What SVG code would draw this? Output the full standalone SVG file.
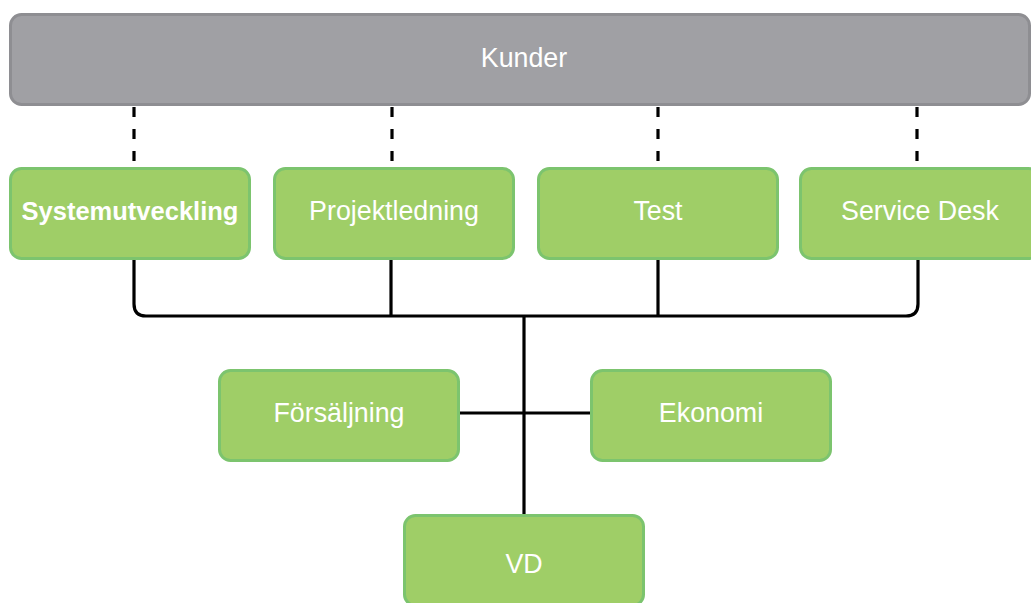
<svg xmlns="http://www.w3.org/2000/svg" width="1031" height="603" viewBox="0 0 1031 603">
<style>
.g{fill:#9fce67;stroke:#7cc46e;stroke-width:3}
.k{fill:#a0a0a4;stroke:#8e8e92;stroke-width:3}
.t{font-family:"Liberation Sans",Arial,sans-serif;font-size:26.8px;fill:#fff;text-anchor:middle}
.b{font-weight:bold;font-size:25.5px}
.c{fill:none;stroke:#000;stroke-width:3.2}
.d{fill:none;stroke:#000;stroke-width:3.2;stroke-dasharray:10 12}
</style>
<rect width="1031" height="603" fill="#fff"/>
<g id="connectors">
<line class="d" x1="134" y1="107" x2="134" y2="167"/>
<line class="d" x1="392" y1="107" x2="392" y2="167"/>
<line class="d" x1="658" y1="107" x2="658" y2="167"/>
<line class="d" x1="917" y1="107" x2="917" y2="167"/>
<path class="c" d="M134 259 V304 Q134 316 146 316 H906 Q918 316 918 304 V259"/>
<line class="c" x1="391" y1="259" x2="391" y2="316"/>
<line class="c" x1="658" y1="259" x2="658" y2="316"/>
<line class="c" x1="524" y1="316" x2="524" y2="515"/>
<line class="c" x1="459" y1="413" x2="591" y2="413"/>
</g>
<g id="kunder"><rect class="k" x="10.5" y="14.5" width="1019" height="90" rx="11"/><text class="t" x="524" y="67">Kunder</text></g>
<g id="systemutveckling"><rect class="g" x="10.5" y="168.5" width="239" height="90" rx="11"/><text class="t b" x="130" y="220">Systemutveckling</text></g>
<g id="projektledning"><rect class="g" x="274.5" y="168.5" width="239" height="90" rx="11"/><text class="t" x="394" y="220">Projektledning</text></g>
<g id="test"><rect class="g" x="538.5" y="168.5" width="239" height="90" rx="11"/><text class="t" x="658" y="220">Test</text></g>
<g id="servicedesk"><rect class="g" x="800.5" y="168.5" width="239" height="90" rx="11"/><text class="t" x="920" y="220">Service Desk</text></g>
<g id="forsaljning"><rect class="g" x="219.5" y="370.5" width="239" height="90" rx="11"/><text class="t" x="339" y="422">Försäljning</text></g>
<g id="ekonomi"><rect class="g" x="591.5" y="370.5" width="239" height="90" rx="11"/><text class="t" x="711" y="422">Ekonomi</text></g>
<g id="vd"><rect class="g" x="404.5" y="515.5" width="239" height="90" rx="11"/><text class="t" x="524" y="573">VD</text></g>
</svg>
